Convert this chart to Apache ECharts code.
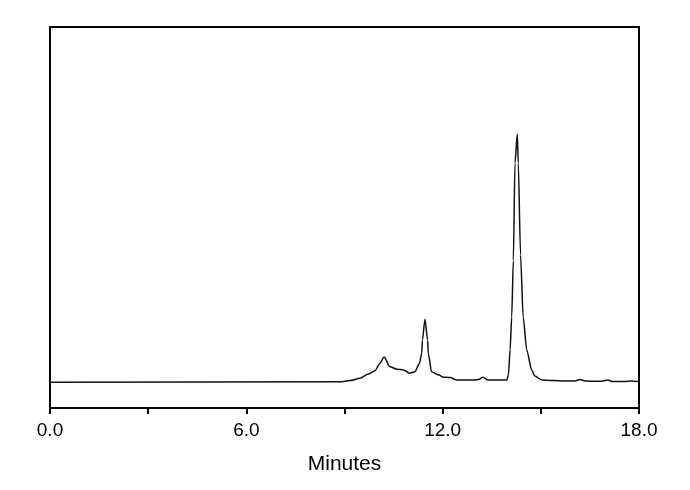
<!DOCTYPE html>
<html>
<head>
<meta charset="utf-8">
<script src="https://cdn.jsdelivr.net/npm/echarts@6/dist/echarts.min.js"></script>
<style>
html,body{margin:0;padding:0;background:#fff;}
#chart{width:690px;height:490px;}
</style>
</head>
<body>
<div id="chart"></div>
<script>
// Retention time (minutes)
var times = [0, 8.86, 9.17, 9.47, 9.73, 9.93, 10.08, 10.21, 10.39, 10.60, 10.80, 11.00, 11.15, 11.29, 11.36, 11.38, 11.46, 11.54, 11.56, 11.66, 11.87, 12.01, 12.22, 12.44, 12.93, 13.10, 13.23, 13.39, 13.96, 14.01, 14.06, 14.11, 14.16, 14.21, 14.28, 14.31, 14.38, 14.46, 14.57, 14.72, 14.82, 15.03, 15.37, 15.74, 16.04, 16.20, 16.35, 16.81, 17.05, 17.18, 17.57, 17.73, 18.0];
// Detector signal (arbitrary units)
var signal = [6.75, 6.9, 7.2, 7.8, 8.9, 9.8, 11.7, 13.4, 10.8, 10.2, 10.0, 9.1, 9.5, 11.7, 14.4, 17.8, 23.3, 17.8, 14.4, 9.5, 8.7, 8.1, 8.0, 7.35, 7.35, 7.5, 8.1, 7.35, 7.35, 8.7, 15.2, 23.9, 38.8, 64.3, 71.9, 64.3, 40.2, 23.9, 15.2, 10.0, 8.4, 7.35, 7.2, 7.1, 7.1, 7.5, 7.1, 7.0, 7.35, 6.95, 6.95, 7.1, 6.95];
var xTickLabels = ['0.0', '6.0', '12.0', '18.0'];
var xName = 'Minutes';

var data = times.map(function (t, i) { return [t, signal[i]]; });
var chart = echarts.init(document.getElementById('chart'));
chart.setOption({
  animation: false,
  backgroundColor: '#fff',
  grid: { left: 50, right: 51, top: 27, bottom: 82, show: true, borderColor: '#000', borderWidth: 2, backgroundColor: 'transparent' },
  xAxis: {
    type: 'value', min: 0, max: 18, interval: 3,
    name: xName, nameLocation: 'middle', nameGap: 46,
    nameTextStyle: { fontFamily: 'Liberation Sans', fontSize: 21, color: '#000' },
    axisLine: { show: true, lineStyle: { color: '#000', width: 2 } },
    axisTick: { show: true, inside: false, length: 6, lineStyle: { color: '#000', width: 2 } },
    splitLine: { show: false },
    axisLabel: {
      fontFamily: 'Liberation Sans', fontSize: 19, color: '#000', margin: 13,
      formatter: function (v) {
        var idx = Math.round(v / 6);
        return (Math.abs(v - idx * 6) < 1e-6) ? xTickLabels[idx] : '';
      }
    }
  },
  yAxis: {
    type: 'value', min: 0, max: 100,
    axisLine: { show: true, lineStyle: { color: '#000', width: 2 } },
    axisTick: { show: false }, axisLabel: { show: false }, splitLine: { show: false }
  },
  series: [{
    type: 'line', data: data, showSymbol: false, smooth: 0.25, smoothMonotone: 'x',
    lineStyle: { color: '#111', width: 1.5 }
  }]
});
</script>
</body>
</html>
